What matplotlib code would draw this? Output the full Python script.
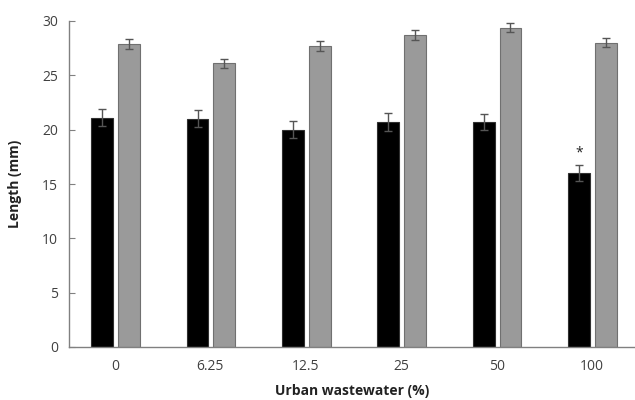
import numpy as np
import matplotlib
matplotlib.use("Agg")
import matplotlib.pyplot as plt

categories = ["0", "6.25", "12.5", "25", "50", "100"]
black_vals = [21.1, 21.0, 20.0, 20.7, 20.7, 16.0]
black_err = [0.8, 0.8, 0.8, 0.85, 0.75, 0.75]
gray_vals = [27.9, 26.1, 27.7, 28.7, 29.4, 28.0]
gray_err = [0.45, 0.4, 0.45, 0.45, 0.45, 0.4]
star_idx = 5

plt.rcParams["font.family"] = ["Open Sans", "DejaVu Sans"]

fig = plt.figure(figsize=(6.35, 4.0), dpi=100)
ax = fig.add_axes([69 / 635, 53 / 400, 566 / 635, 326 / 400])

x = np.arange(len(categories))
w = 0.23
err_kw = dict(ecolor="#555555", elinewidth=1.0, capsize=3, capthick=1.0)
ax.bar(x - 0.135, black_vals, w, yerr=black_err, color="black",
       edgecolor="#303030", linewidth=0.8, error_kw=err_kw)
ax.bar(x + 0.145, gray_vals, w, yerr=gray_err, color="#9a9a9a",
       edgecolor="#707070", linewidth=0.8, error_kw=err_kw)
ax.text(x[star_idx] - 0.135, black_vals[star_idx] + black_err[star_idx] + 0.4, "*",
        ha="center", va="bottom", fontsize=10, color="#222222")

ax.set_xlim(-0.482, 5.45)
ax.set_ylim(0, 30)
ax.set_yticks(range(0, 31, 5))
ax.set_xticks(x)
ax.set_xticklabels(categories)
for s in ("top", "right"):
    ax.spines[s].set_visible(False)
for s in ("left", "bottom"):
    ax.spines[s].set_color("#808080")
    ax.spines[s].set_linewidth(1.0)
ax.tick_params(axis="y", direction="in", length=4, color="#808080",
               labelsize=10, labelcolor="#404040", pad=8)
ax.tick_params(axis="x", length=0, labelsize=10, labelcolor="#404040", pad=9)
ax.set_ylabel("Length (mm)", fontsize=10, fontweight="bold", color="#222222", labelpad=14)
ax.set_xlabel("Urban wastewater (%)", fontsize=10, fontweight="bold", color="#222222", labelpad=6.5)

fig.savefig("out.png", dpi=100)
